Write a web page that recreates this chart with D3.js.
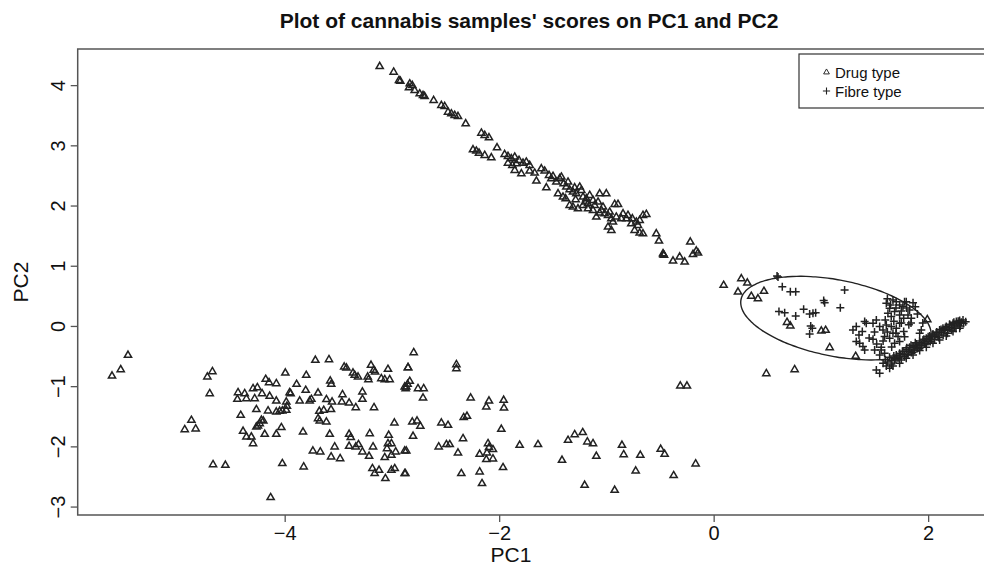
<!DOCTYPE html>
<html>
<head>
<meta charset="utf-8">
<script src="https://cdn.jsdelivr.net/npm/d3@7"></script>
<style>
  html, body { margin: 0; padding: 0; background: #fff; }
  text { font-family: "Liberation Sans", Arial, sans-serif; fill: #111; }
</style>
</head>
<body>
<svg id="chart" width="984" height="570"></svg>
<script>
// ---------------- data ----------------
const chartTitle = "Plot of cannabis samples' scores on PC1 and PC2";
const xLabel = "PC1";
const yLabel = "PC2";
const xTicks = [-4, -2, 0, 2];
const yTicks = [-3, -2, -1, 0, 1, 2, 3, 4];
const xDomain = [-5.93, 2.67];
const yDomain = [-3.14, 4.60];
const legendLabels = ["Drug type", "Fibre type"];

// Drug type scores [PC1, PC2]
const drugScores = [
  // upper diagonal band
  [-3.114,4.316],[-2.984,4.222],[-2.922,4.073],[-2.934,4.084],[-2.834,4.028],[-2.810,4.001],[-2.841,3.962],
  [-2.788,3.918],[-2.741,3.862],[-2.710,3.835],[-2.695,3.818],[-2.611,3.752],[-2.539,3.669],[-2.508,3.652],
  [-2.477,3.558],[-2.446,3.530],[-2.415,3.503],[-2.384,3.486],[-2.312,3.364],[-2.166,3.209],[-2.135,3.171],
  [-2.095,3.132],[-2.020,2.966],[-2.244,2.933],[-2.213,2.911],[-2.188,2.877],[-2.135,2.839],[-2.073,2.800],
  [-1.949,2.855],[-1.918,2.822],[-1.887,2.783],[-1.855,2.811],[-1.815,2.756],[-1.778,2.711],[-1.747,2.728],
  [-1.716,2.673],[-1.918,2.711],[-1.877,2.673],[-1.840,2.700],[-1.855,2.590],[-1.793,2.534],[-1.716,2.579],
  [-1.669,2.545],[-1.607,2.617],[-1.576,2.579],[-1.653,2.413],[-1.560,2.302],
  [-1.535,2.507],[-1.514,2.451],[-1.498,2.490],[-1.467,2.396],[-1.436,2.451],[-1.420,2.479],[-1.399,2.368],
  [-1.374,2.313],[-1.358,2.396],[-1.343,2.269],[-1.312,2.230],[-1.296,2.302],[-1.281,2.202],[-1.249,2.313],
  [-1.234,2.258],[-1.218,2.147],[-1.187,2.119],[-1.172,2.036],[-1.156,2.175],[-1.125,2.092],[-1.110,2.009],
  [-1.078,2.064],[-1.063,2.202],[-1.001,2.202],[-1.047,1.926],[-1.016,1.870],[-0.985,1.843],[-0.954,1.787],
  [-0.923,2.025],[-0.892,2.025],[-0.939,1.732],[-0.908,1.815],[-0.861,1.787],[-0.814,1.787],[-0.768,1.704],
  [-0.721,1.732],[-0.690,1.760],[-0.659,1.843],[-0.628,1.859],[-0.659,1.538],[-0.690,1.549],[-0.737,1.594],
  [-0.706,1.677],[-0.985,1.649],[-0.954,1.594],[-1.451,2.202],[-1.405,2.147],[-1.343,2.009],[-1.312,1.981],
  [-1.265,1.953],[-1.218,2.009],[-1.172,1.953],[-1.125,1.926],[-1.063,1.881],[-1.094,1.815],
  [-1.380,2.119],[-1.287,2.103],[-1.193,2.064],[-1.032,1.981],[-0.970,1.898],[-0.845,1.870],[-0.799,1.843],[-0.758,1.787],
  [-0.535,1.538],[-0.510,1.417],[-0.472,1.206],[-0.463,1.179],[-0.468,1.190],[-0.379,1.085],[-0.317,1.151],
  [-0.270,1.068],[-0.218,1.400],[-0.193,1.195],[-0.162,1.251],[-0.146,1.217],
  // lower-left cloud
  [-5.461,-0.481],[-5.529,-0.720],[-5.610,-0.825],[-4.674,-0.753],[-4.721,-0.841],[-4.699,-1.118],[-4.870,-1.561],
  [-4.932,-1.716],[-4.830,-1.704],[-4.668,-2.297],[-4.553,-2.308],[-4.131,-2.844],[-3.994,-0.775],[-4.177,-0.880],
  [-4.146,-0.935],[-4.078,-0.952],[-4.295,-1.035],[-4.255,-1.018],[-4.435,-1.101],[-4.373,-1.118],[-4.441,-1.212],
  [-4.357,-1.201],[-4.280,-1.201],[-4.211,-1.118],[-4.140,-1.162],[-4.078,-1.240],[-3.985,-1.256],[-3.979,-1.328],
  [-3.954,-1.101],[-3.945,-1.118],[-3.889,-0.963],[-3.799,-0.814],[-3.804,-1.063],[-3.860,-1.240],[-3.767,-1.240],
  [-3.751,-1.212],[-3.689,-1.107],[-3.611,-1.217],[-3.558,-1.256],[-3.714,-0.564],[-3.587,-0.553],[-3.575,-0.907],
  [-3.566,-0.963],[-3.445,-0.675],[-3.424,-0.692],[-3.363,-0.775],[-3.347,-0.814],[-3.316,-0.841],[-3.195,-0.647],
  [-3.170,-0.730],[-3.157,-0.758],[-3.226,-0.841],[-3.219,-0.885],[-3.099,-0.869],[-3.067,-0.885],[-3.021,-0.885],
  [-3.037,-0.714],[-2.866,-1.007],[-2.854,-0.963],[-2.850,-0.686],[-3.461,-1.134],[-3.467,-1.256],[-3.399,-1.273],
  [-3.337,-1.350],[-3.275,-1.090],[-3.275,-1.212],[-3.167,-1.350],[-3.677,-1.411],[-3.636,-1.395],[-3.568,-1.383],
  [-3.689,-1.533],[-3.673,-1.572],[-3.611,-1.588],[-4.410,-1.478],[-4.264,-1.383],[-4.155,-1.405],[-4.078,-1.422],
  [-4.047,-1.411],[-4.022,-1.405],[-3.985,-1.394],[-4.217,-1.560],[-4.233,-1.616],[-4.249,-1.655],[-4.264,-1.671],
  [-4.199,-1.572],[-4.031,-1.682],[-4.078,-1.793],[-4.186,-1.793],[-4.388,-1.743],[-4.357,-1.837],[-4.311,-1.837],
  [-4.295,-1.948],[-3.829,-1.754],[-3.580,-1.793],[-3.399,-1.793],[-3.384,-1.848],[-3.207,-1.782],[-3.030,-1.809],
  [-3.399,-1.992],[-3.337,-2.003],[-3.312,-1.964],[-3.534,-2.003],[-3.176,-2.003],[-3.037,-1.948],[-3.005,-1.948],
  [-3.046,-2.031],[-3.737,-2.070],[-3.668,-2.086],[-3.567,-2.169],[-3.483,-2.197],[-3.275,-2.086],[-3.213,-2.158],
  [-3.067,-2.180],[-3.005,-2.141],[-2.965,-2.086],[-2.881,-2.070],[-2.977,-1.605],[-4.022,-2.280],[-3.823,-2.335],
  [-3.182,-2.363],[-3.161,-2.446],[-3.120,-2.391],[-3.061,-2.529],[-3.005,-2.391],[-2.974,-2.363],[-2.881,-2.446],
  [-2.797,-0.437],[-2.850,-0.686],[-2.834,-0.913],[-2.881,-1.007],[-2.872,-1.035],[-2.757,-1.035],[-2.704,-1.035],
  [-2.710,-1.190],[-2.399,-0.636],[-2.399,-0.703],[-2.266,-1.190],[-2.095,-1.240],[-2.120,-1.339],[-1.958,-1.228],
  [-1.955,-1.356],[-2.810,-1.588],[-2.766,-1.572],[-2.735,-1.660],[-2.539,-1.605],[-2.477,-1.644],[-2.331,-1.516],
  [-2.300,-1.494],[-1.980,-1.710],[-2.803,-1.826],[-2.866,-2.070],[-2.875,-2.446],[-2.564,-2.003],[-2.492,-1.964],
  [-2.461,-1.964],[-2.337,-1.865],[-2.384,-2.103],[-2.353,-2.446],[-2.182,-2.125],[-2.182,-2.418],[-2.160,-2.612],
  [-2.104,-1.948],[-2.095,-2.014],[-2.058,-2.047],[-2.114,-2.103],[-2.120,-2.213],[-2.058,-2.202],[-1.964,-2.346],
  [-1.809,-1.975],[-1.638,-1.964],[-1.414,-2.224],[-1.358,-1.893],[-1.296,-1.799],[-1.221,-1.765],[-1.178,-1.920],
  [-1.125,-1.948],[-1.094,-2.158],[-1.203,-2.640],[-0.923,-2.723],[-0.855,-1.975],[-0.839,-2.131],[-0.684,-2.142],
  [-0.727,-2.402],[-0.494,-2.042],[-0.457,-2.125],[-0.373,-2.479],[-0.168,-2.285],[-0.311,-0.990],[-0.249,-0.991],
  // near the fibre group
  [0.093,0.681],[0.258,0.791],[0.314,0.719],[0.227,0.570],[0.351,0.498],[0.413,0.459],[0.469,0.581],
  [0.684,0.066],[0.715,0.006],[1.004,-0.077],[1.044,-0.066],[1.082,-0.354],[1.324,-0.498],[0.491,-0.786],
  [0.755,-0.719],[1.992,0.111]
];

// Fibre type scores [PC1, PC2]
const fibreScores = [
  [0.591,0.830],[0.600,0.815],[0.640,0.653],[0.715,0.570],[0.765,0.570],[1.221,0.598],[1.026,0.421],[1.035,0.387],
  [1.181,0.304],[0.609,0.238],[0.662,0.221],[0.765,0.166],[0.839,0.277],[0.895,0.199],[0.926,0.210],[0.951,0.221],
  [0.905,0.000],[0.920,-0.039],[0.895,-0.133],[1.299,-0.066],[1.330,-0.011],[1.355,-0.149],[1.386,-0.094],
  [1.408,0.072],[1.330,-0.260],[1.361,-0.288],[1.392,-0.343],[1.486,-0.221],[1.408,-0.398],[1.501,-0.398],
  [1.563,-0.354],[1.423,0.044],[1.486,0.044],[1.517,0.100],[1.548,-0.011],[1.579,-0.066],[1.594,-0.177],
  [1.610,0.376],[1.641,0.293],[1.672,0.432],[1.703,0.404],[1.734,0.349],[1.765,0.321],[1.796,0.404],[1.859,0.387],
  [1.827,0.266],[1.625,0.210],[1.656,0.155],[1.687,0.238],[1.734,0.183],[1.772,0.127],[1.812,0.183],[1.843,0.127],
  [1.610,0.017],[1.656,-0.011],[1.703,-0.039],[1.734,0.044],[1.772,-0.094],[1.672,-0.122],[1.719,-0.177],
  [1.641,-0.205],[1.734,-0.260],[1.687,-0.288],[1.921,-0.122],[1.936,-0.066],[1.548,-0.481],[1.594,-0.454],
  [1.563,-0.398],[1.517,-0.730],[1.548,-0.786],
  [1.650,0.350],[1.700,0.300],[1.750,0.250],[1.800,0.300],[1.880,0.320],[1.600,0.100],[1.680,0.080],[1.750,0.050],
  [1.820,0.020],[1.620,-0.100],[1.700,-0.120],[1.780,-0.180],[1.580,-0.250],[1.660,-0.350],[1.500,-0.100],
  [1.450,-0.200],[1.520,-0.300],[1.620,0.450],[1.780,0.400],[1.900,0.200],[1.840,0.050],[1.950,0.050],
  // dense diagonal band
  [1.610,-0.664],[1.657,-0.631],[1.688,-0.564],[1.719,-0.537],[1.750,-0.564],[1.781,-0.509],[1.812,-0.465],
  [1.843,-0.443],[1.874,-0.398],[1.905,-0.354],[1.936,-0.315],[1.967,-0.288],[1.998,-0.260],[2.030,-0.221],
  [2.061,-0.177],[2.092,-0.149],[2.123,-0.111],[2.154,-0.077],[2.185,-0.055],[2.216,-0.028],[2.247,0.000],
  [2.278,0.033],[2.309,0.061],[1.703,-0.481],[1.734,-0.454],[1.765,-0.426],[1.796,-0.387],[1.827,-0.354],
  [1.859,-0.332],[1.890,-0.299],[1.921,-0.277],[1.952,-0.232],[1.983,-0.205],[2.014,-0.166],[2.045,-0.133],
  [2.076,-0.111],[2.107,-0.066],[2.138,-0.039],[2.169,-0.011],[2.200,0.017],[2.232,0.044],[2.263,0.072],
  [2.294,0.089],[2.325,0.100],[1.641,-0.703],[1.672,-0.664],[1.734,-0.620],[1.796,-0.537],[1.859,-0.481],
  [1.921,-0.409],[1.983,-0.354],[2.045,-0.288],[2.107,-0.232],[2.169,-0.166],[2.232,-0.094],[2.294,-0.039],
  [1.620,-0.600],[1.660,-0.580],[1.700,-0.550],[1.740,-0.500],[1.780,-0.470],[1.820,-0.420],[1.860,-0.400],
  [1.900,-0.370],[1.940,-0.330],[1.980,-0.300],[2.020,-0.260],[2.060,-0.220],[2.100,-0.190],[2.140,-0.150],
  [2.180,-0.120],[2.220,-0.070],[2.260,-0.040],[2.300,0.000],[2.330,0.040],[2.350,0.070],
  [1.580,-0.620],[1.600,-0.560],[1.640,-0.520],[1.680,-0.500],[1.760,-0.420],[1.800,-0.360],[1.840,-0.320],
  [1.880,-0.280],[1.920,-0.250],[1.960,-0.220],[2.000,-0.180],[2.040,-0.150],[2.080,-0.100],[2.120,-0.060],
  [2.160,-0.030],[2.200,0.030],[2.240,0.060],[2.280,0.080]
];

// ellipse around the fibre group: centre and two half-axis vectors (data units)
const ellipseCenter = [1.14, 0.13];
const ellipseAxisA = [0.886, -0.222];
const ellipseAxisB = [-0.052, 0.658];

// ---------------- drawing ----------------
const svg = d3.select("#chart");
const plot = { left: 77.7, right: 1000, top: 49, bottom: 515 };

const x = d3.scaleLinear().domain(xDomain).range([plot.left, plot.right]);
const y = d3.scaleLinear().domain(yDomain).range([plot.bottom, plot.top]);

const ink = "#222";
const axisGray = "#555";

// title
svg.append("text")
  .attr("x", 529).attr("y", 28)
  .attr("text-anchor", "middle")
  .style("font-weight", "bold").style("font-size", "21px")
  .text(chartTitle);

// x axis
const xAxis = d3.axisBottom(x).tickValues(xTicks).tickSize(7).tickPadding(4)
  .tickFormat(d => d < 0 ? "\u2212" + Math.abs(d) : String(d));
const gx = svg.append("g").attr("transform", `translate(0,${plot.bottom})`).call(xAxis);
gx.select(".domain").remove();
gx.selectAll("line").attr("stroke", axisGray).attr("stroke-width", 1.3);
gx.selectAll("text").style("font-size", "20px").attr("fill", "#111")
  .attr("font-family", "Liberation Sans, Arial, sans-serif");

// y axis
const yAxis = d3.axisLeft(y).tickValues(yTicks).tickSize(7).tickPadding(6)
  .tickFormat(d => d < 0 ? "\u2212" + Math.abs(d) : String(d));
const gy = svg.append("g").attr("transform", `translate(${plot.left},0)`).call(yAxis);
gy.select(".domain").remove();
gy.selectAll("line").attr("stroke", axisGray).attr("stroke-width", 1.3);
gy.selectAll("text")
  .style("font-size", "20px").attr("fill", "#111")
  .attr("font-family", "Liberation Sans, Arial, sans-serif")
  .attr("x", null).attr("dy", null)
  .attr("text-anchor", "middle")
  .attr("transform", "translate(-13,0) rotate(-90)");

// axis titles
svg.append("text")
  .attr("x", 511).attr("y", 562)
  .attr("text-anchor", "middle").style("font-size", "21px")
  .text(xLabel);
svg.append("text")
  .attr("transform", `translate(28,${(plot.top + plot.bottom) / 2}) rotate(-90)`)
  .attr("text-anchor", "middle").style("font-size", "21px")
  .text(yLabel);

// plot box
svg.append("rect")
  .attr("x", plot.left).attr("y", plot.top)
  .attr("width", plot.right - plot.left).attr("height", plot.bottom - plot.top)
  .attr("fill", "none").attr("stroke", axisGray).attr("stroke-width", 1.5);

// symbols
const triPath = "M0,-3.8L3.6,2.4L-3.6,2.4Z";
const plusPath = "M-4,0H4M0,-4V4";

const gPts = svg.append("g");
gPts.selectAll("path.drug").data(drugScores).join("path")
  .attr("class", "drug")
  .attr("d", triPath)
  .attr("transform", d => `translate(${x(d[0])},${y(d[1])})`)
  .attr("fill", "none").attr("stroke", ink).attr("stroke-width", 1.5);

gPts.selectAll("path.fibre").data(fibreScores).join("path")
  .attr("class", "fibre")
  .attr("d", plusPath)
  .attr("transform", d => `translate(${x(d[0])},${y(d[1])})`)
  .attr("fill", "none").attr("stroke", ink).attr("stroke-width", 1.5);

// ellipse
const ellPts = d3.range(0, 360, 3).map(deg => {
  const t = deg * Math.PI / 180;
  return [
    ellipseCenter[0] + Math.cos(t) * ellipseAxisA[0] + Math.sin(t) * ellipseAxisB[0],
    ellipseCenter[1] + Math.cos(t) * ellipseAxisA[1] + Math.sin(t) * ellipseAxisB[1]
  ];
});
svg.append("path")
  .attr("d", d3.line().x(d => x(d[0])).y(d => y(d[1])).curve(d3.curveCardinalClosed)(ellPts))
  .attr("fill", "none").attr("stroke", "#222").attr("stroke-width", 1.4);

// legend
const lg = svg.append("g");
lg.append("rect")
  .attr("x", 799).attr("y", 54).attr("width", 220).attr("height", 54)
  .attr("fill", "#fff").attr("stroke", "#333").attr("stroke-width", 1.2);
const legendShapes = [triPath, plusPath];
legendLabels.forEach((lab, i) => {
  const cy = 72 + i * 19;
  lg.append("path").attr("d", legendShapes[i])
    .attr("transform", `translate(826.5,${cy}) scale(${i === 0 ? 0.8 : 0.9})`)
    .attr("fill", "none").attr("stroke", ink).attr("stroke-width", 1.2);
  lg.append("text").attr("x", 835).attr("y", cy + 5.5)
    .style("font-size", "15px").text(lab);
});
</script>
</body>
</html>
